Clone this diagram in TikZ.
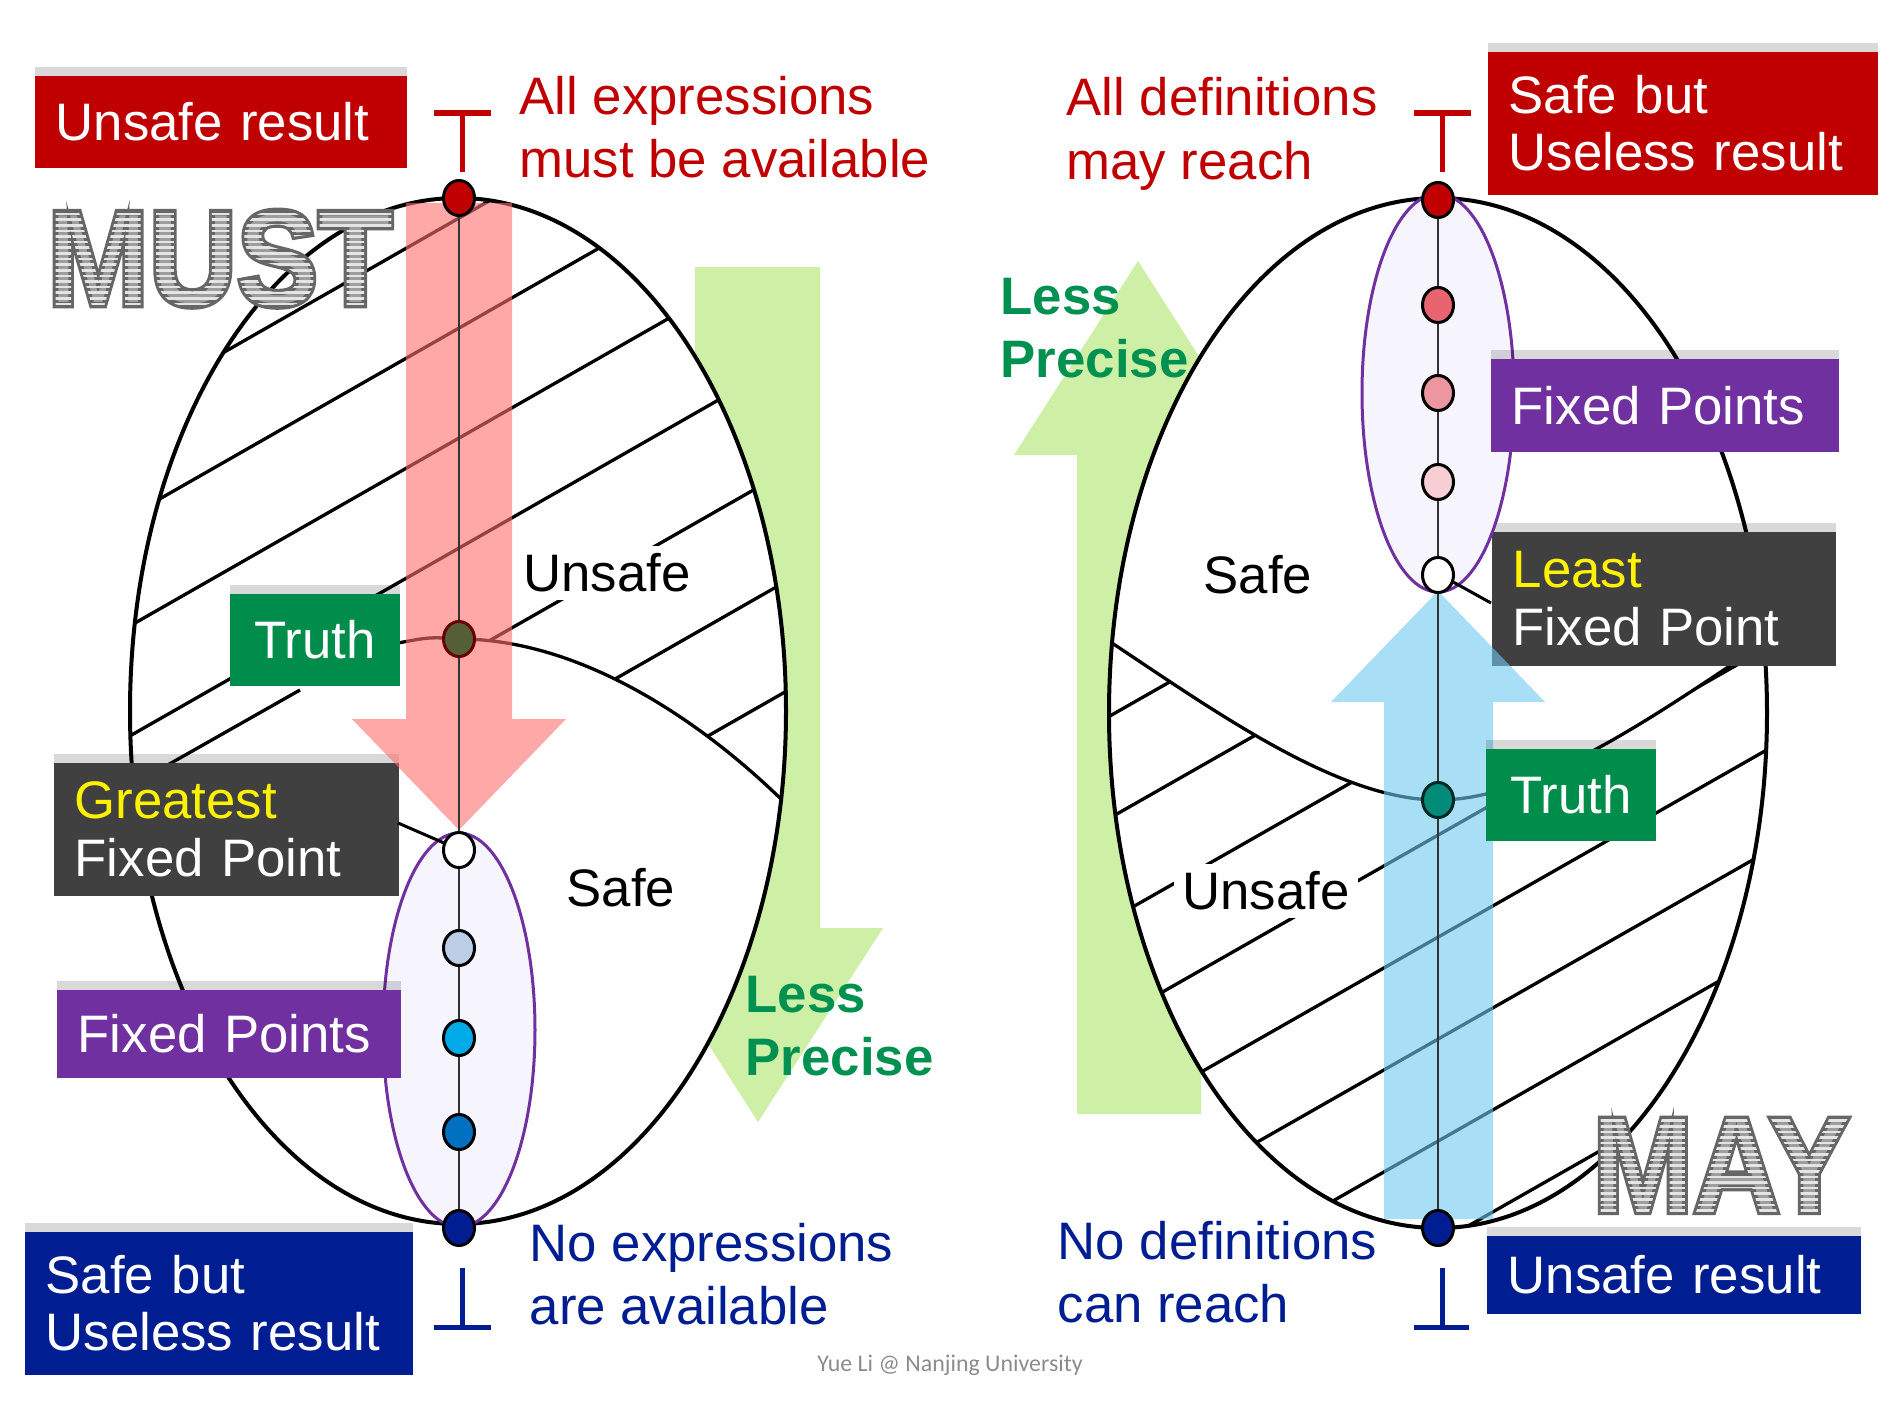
\documentclass[tikz,border=0pt]{standalone}
\usepackage{fontspec}
\setmainfont{Liberation Sans}
\newfontfamily\credfont{Carlito}
\usetikzlibrary{arrows.meta, positioning, shapes.geometric, shadows, calc}
\definecolor{mustred}{RGB}{192,0,0}
\definecolor{maynavy}{RGB}{0,30,145}
\definecolor{truthgreen}{RGB}{0,140,75}
\definecolor{fppurple}{RGB}{112,48,160}
\definecolor{fpgray}{RGB}{64,64,64}
\definecolor{fplight}{RGB}{246,244,252}
\definecolor{precgreen}{RGB}{0,145,80}
\definecolor{arrgreen}{RGB}{206,240,166}
\definecolor{arrpink}{RGB}{255,110,110}
\definecolor{arrblue}{RGB}{110,200,240}
\definecolor{markfill}{RGB}{158,158,158}
\definecolor{markstripe}{RGB}{228,228,228}
\definecolor{credgray}{RGB}{140,140,140}
\definecolor{dotolive}{RGB}{85,95,55}
\definecolor{dotteal}{RGB}{0,140,120}
\definecolor{bluea}{RGB}{188,206,230}
\definecolor{blueb}{RGB}{0,170,230}
\definecolor{bluec}{RGB}{0,112,192}
\definecolor{pinka}{RGB}{232,100,112}
\definecolor{pinkb}{RGB}{238,150,160}
\definecolor{pinkc}{RGB}{246,206,212}
\newcommand\lblfont{\fontsize{15}{16.3}\selectfont}
\newcommand\txtfont{\fontsize{15}{18}\selectfont}
% striped letters with a grey rim
\newsavebox\markbox
\newcommand\stripetext[1]{%
  \sbox\markbox{#1}%
  \special{pdf:bcontent}%
  \rlap{\special{pdf:literal direct 2 Tr 0.4 G 1.8 w}#1\special{pdf:literal direct 0 Tr}}%
  \rlap{\special{pdf:literal direct 7 Tr}#1\special{pdf:literal direct 0 Tr}}%
  \tikz[baseline=0pt]{\foreach \s in {0,1.6,...,30}
    \fill[markstripe] (0pt,\s pt) rectangle (\wd\markbox,\s pt+0.75pt);}%
  \special{pdf:econtent}}
\tikzset{
  lbl/.style      = {rectangle, anchor=north west, inner xsep=0.21cm, inner ysep=0pt,
                     text=white, align=left, font=\lblfont,
                     drop shadow={shadow xshift=0pt, shadow yshift=2.5pt, opacity=0.15, fill=black}},
  truthbox/.style = {lbl, fill=truthgreen, align=center, text width=1.28cm, minimum height=0.92cm},
  note/.style     = {anchor=west, inner sep=0pt, align=left, font=\txtfont},
  region/.style   = {fill=white, inner sep=0.08cm, font=\txtfont},
  precise/.style  = {note, font=\txtfont\bfseries, text=precgreen},
  fpdot/.style    = {ellipse, draw=black, line width=0.03cm, inner sep=0pt,
                     minimum width=0.31cm, minimum height=0.35cm},
  hatch/.style    = {line width=0.033cm, black},
  rim/.style      = {line width=0.04cm, draw=black, fill=white},
  fpset/.style    = {line width=0.03cm, draw=fppurple, fill=fplight},
  vline/.style    = {line width=0.02cm, black!80},
  ptr/.style      = {line width=0.03cm, black},
  lat/.style      = {line width=0.05cm},
  wmark/.style    = {font=\fontsize{38.5}{40}\selectfont\bfseries, inner sep=0pt, text=markfill},
}

\begin{document}
\begin{tikzpicture}[x=0.01cm, y=-0.01cm]
  \fill[white] (0,0) rectangle (1902,1418);
  \useasboundingbox (0,0) rectangle (1902,1418);

  % MUST
  \fill[arrgreen] (695,267) -- (820,267) -- (820,928) -- (883,928)
    -- (758,1122) -- (634,928) -- (695,928) -- cycle;
  \draw[rim] (458,711) ellipse [x radius=328, y radius=513];
  \begin{scope}
    \clip (458,711) ellipse [x radius=328, y radius=513];
    \clip (0,0) -- (1000,0) -- (1000,800) -- (782,800)
      .. controls (700,720) and (580,639) .. (459,639)
      -- (401,643) -- (250,762) -- (0,900) -- cycle;
    \foreach \yy in {218,328,...,878}
      \draw[hatch] (100,{\yy+205}) -- (820,{\yy-206});
    \draw[hatch] (150,775) -- (300,690);
  \end{scope}
  \draw[hatch] (398,643) .. controls (430,637) .. (459,639)
    .. controls (580,639) and (700,720) .. (782,800);
  \node[lbl, fill=fpgray, text width=3.03cm, minimum height=1.33cm] (gfp) at (53,762)
    {\textcolor{yellow}{Greatest}\\Fixed Point};
  \fill[arrpink, opacity=0.6] (406,203) -- (512,203) -- (512,719) -- (566,719)
    -- (459,830) -- (352,719) -- (406,719) -- cycle;
  \draw[fpset] (459,1030) ellipse [x radius=76, y radius=197];
  \node[fpdot, fill=mustred] (topL) at (459,198) {};
  \node[fpdot, fill=dotolive, draw=black!60!red] (truthdotL) at (459,639) {};
  \foreach \yy/\fc [count=\i from 0] in {850/white, 948/bluea, 1038/blueb, 1132/bluec}
    \node[fpdot, fill=\fc] (lfp\i) at (459,\yy) {};
  \node[fpdot, fill=maynavy] (botL) at (459,1228) {};
  \draw[vline] (topL) -- (truthdotL) -- (lfp0) -- (lfp1) -- (lfp2) -- (lfp3) -- (botL);
  \draw[ptr] (398,823) -- (lfp0.155);
  \node[region] (unsafeL) at (607,573) {Unsafe};
  \node[region] (safeL) at (621,888) {Safe};
  \node[truthbox] (truthL) at (229,593) {Truth};
  \node[lbl, fill=mustred, text width=3.30cm, minimum height=0.92cm] (unsaferesL) at (34,75) {Unsafe result};
  \node[lbl, fill=fppurple, text width=3.02cm, minimum height=0.88cm] (fixL) at (56,989) {Fixed Points};
  \node[lbl, fill=maynavy, text width=3.46cm, minimum height=1.43cm] (uselessL) at (24,1231) {Safe but\\Useless result};
  \node[note, text=mustred] (topnoteL) at (519,127) {All expressions\\must be available};
  \node[note, text=maynavy] (botnoteL) at (529,1274) {No expressions\\are available};
  \node[precise] (lessL) at (745,1026) {Less\\Precise};
  \draw[lat, mustred] (434,113) -- (491,113) (462,113) -- (462,172);
  \draw[lat, maynavy] (462,1268) -- (462,1327) (434,1327) -- (491,1327);
  \node[wmark] (must) at (220,254) {\scalebox{0.9}[1]{\stripetext{MUST}}};

  % MAY
  \fill[arrgreen] (1077,1114) -- (1201,1114) -- (1201,455) -- (1262,455)
    -- (1138,261) -- (1014,455) -- (1077,455) -- cycle;
  \draw[rim] (1438,713) ellipse [x radius=329, y radius=515];
  \begin{scope}
    \clip (1438,713) ellipse [x radius=329, y radius=515];
    \clip (1000,643) -- (1112,643) .. controls (1220,715) and (1340,800) .. (1438,800)
      .. controls (1536,800) and (1656,715) .. (1764,643)
      -- (1900,643) -- (1900,1418) -- (1000,1418) -- cycle;
    \foreach \yy in {529,631,...,1243}
      \draw[hatch] (1080,{\yy+204}) -- (1800,{\yy-206});
  \end{scope}
  \draw[hatch] (1112,643) .. controls (1220,715) and (1340,800) .. (1438,800)
    .. controls (1536,800) and (1656,715) .. (1764,643);
  \node[lbl, fill=fpgray, text width=3.02cm, minimum height=1.34cm] (lfpbox) at (1491,531)
    {\textcolor{yellow}{Least}\\Fixed Point};
  \fill[arrblue, opacity=0.6] (1384,1219) -- (1493,1219) -- (1493,702) -- (1545,702)
    -- (1438,591) -- (1331,702) -- (1384,702) -- cycle;
  \draw[fpset] (1438,393) ellipse [x radius=76, y radius=199];
  \node[fpdot, fill=mustred] (topR) at (1438,200) {};
  \foreach \yy/\fc [count=\i] in {305/pinka, 393/pinkb, 482/pinkc, 575/white}
    \node[fpdot, fill=\fc] (rfp\i) at (1438,\yy) {};
  \node[fpdot, fill=dotteal, draw=black!70!teal] (truthdotR) at (1438,800) {};
  \node[fpdot, fill=maynavy] (botR) at (1438,1228) {};
  \draw[vline] (topR) -- (rfp1) -- (rfp2) -- (rfp3) -- (rfp4) -- (truthdotR) -- (botR);
  \draw[ptr] (rfp4.-25) -- (1491,603);
  \node[region] (safeR) at (1258,575) {Safe};
  \node[region] (unsafeR) at (1266,891) {Unsafe};
  \node[truthbox] (truthR) at (1485,748) {Truth};
  \node[lbl, fill=mustred, text width=3.48cm, minimum height=1.43cm] (uselessR) at (1487,51) {Safe but\\Useless result};
  \node[lbl, fill=fppurple, text width=3.06cm, minimum height=0.93cm] (fixR) at (1490,358) {Fixed Points};
  \node[lbl, fill=maynavy, text width=3.32cm, minimum height=0.78cm] (unsaferesR) at (1486,1235) {Unsafe result};
  \node[note, text=mustred] (topnoteR) at (1066,134) {All definitions\\may reach};
  \node[note, text=maynavy] (botnoteR) at (1057,1272) {No definitions\\can reach};
  \node[precise] (lessR) at (1000,328) {Less\\Precise};
  \draw[lat, mustred] (1414,113) -- (1471,113) (1442,113) -- (1442,172);
  \draw[lat, maynavy] (1442,1268) -- (1442,1327) (1414,1327) -- (1469,1327);
  \node[wmark] (may) at (1721,1160) {\scalebox{0.89}[1]{\stripetext{MAY}}};

  \node[font=\credfont\fontsize{6.8}{8}\selectfont, text=credgray] (credit) at (950,1365)
    {Yue Li @ Nanjing University};
\end{tikzpicture}
\end{document}
